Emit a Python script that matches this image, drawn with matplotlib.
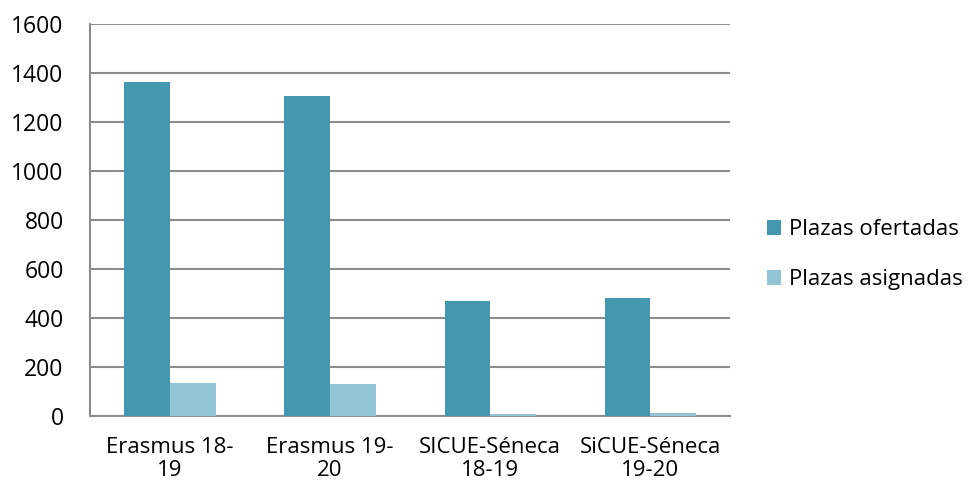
""" Plazas ofertadas vs asignadas """
import matplotlib
matplotlib.use('Agg')
import matplotlib.pyplot as plt
import numpy as np

categories = ['Erasmus 18-\n19', 'Erasmus 19-\n20', 'SICUE-Séneca\n18-19', 'SiCUE-Séneca\n19-20']
ofertadas = [1365, 1307, 470, 481]
asignadas = [135, 131, 8, 12]
series_names = ['Plazas ofertadas', 'Plazas asignadas']
colors = ['#4398B0', '#93C4D5']
grid_color = '#8C8C8C'

plt.rcParams['font.family'] = ['Open Sans', 'DejaVu Sans']

fig = plt.figure(figsize=(9.7, 4.9), dpi=100)
ax = fig.add_axes([0.0928, 0.151, 0.66, 0.80])

x = np.arange(len(categories))
width = 0.285
ax.bar(x - width / 2, ofertadas, width, color=colors[0], label=series_names[0], zorder=3)
ax.bar(x + width / 2, asignadas, width, color=colors[1], label=series_names[1], zorder=3)

ax.set_xlim(-0.5, len(categories) - 0.5)
ax.set_ylim(0, 1600)
ax.set_yticks(range(0, 1601, 200))
ax.yaxis.grid(True, color=grid_color, linewidth=1.5, zorder=0)
ax.set_xticks(x)
ax.set_xticklabels(categories, fontsize=16, linespacing=1.15)
ax.tick_params(axis='x', length=0, pad=15)
ax.tick_params(axis='y', length=0, labelsize=16.5, pad=19)

for side in ['top', 'right']:
    ax.spines[side].set_visible(False)
for side in ['left', 'bottom']:
    ax.spines[side].set_color(grid_color)
    ax.spines[side].set_linewidth(1.5)

ax.legend(loc='center left', bbox_to_anchor=(0.791, 0.48), bbox_transform=fig.transFigure,
          frameon=False, fontsize=16, handlelength=0.62, handleheight=0.62,
          handletextpad=0.35, labelspacing=1.3, borderpad=0, borderaxespad=0)

fig.savefig('out.png', dpi=100)
